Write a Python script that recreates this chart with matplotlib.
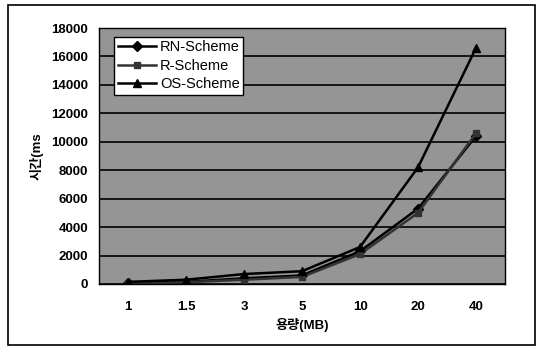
import matplotlib
matplotlib.use("Agg")
import matplotlib.pyplot as plt
from matplotlib.patches import Rectangle

plt.rcParams['font.family'] = ['Liberation Sans', 'Noto Sans CJK KR', 'DejaVu Sans']

categories = ['1', '1.5', '3', '5', '10', '20', '40']
rn_scheme = [100, 150, 400, 600, 2300, 5300, 10400]
r_scheme = [80, 120, 300, 500, 2100, 5000, 10600]
os_scheme = [150, 300, 700, 900, 2600, 8200, 16600]
y_ticks = [0, 2000, 4000, 6000, 8000, 10000, 12000, 14000, 16000, 18000]

fig = plt.figure(figsize=(5.4, 3.47), dpi=100)
fig.patch.set_facecolor('white')
fig.patches.append(Rectangle((8/540, 2/347), 527/540, 340/347, transform=fig.transFigure,
                             fill=False, edgecolor='black', linewidth=1.2))

ax = fig.add_axes([99/540, 63/347, 406/540, 256/347])
ax.set_facecolor('#959595')
x = list(range(len(categories)))
ax.plot(x, rn_scheme, color='black', lw=1.8, marker='D', ms=5, label='RN-Scheme')
ax.plot(x, r_scheme, color='#333333', lw=1.8, marker='s', ms=5, label='R-Scheme')
ax.plot(x, os_scheme, color='black', lw=1.8, marker='^', ms=6, label='OS-Scheme')

ax.set_xlim(-0.5, len(categories) - 0.5)
ax.set_ylim(0, 18000)
ax.set_xticks(x)
ax.set_xticklabels(categories)
ax.set_yticks(y_ticks)
ax.yaxis.grid(True, color='black', lw=1.2)
ax.set_axisbelow(True)
ax.tick_params(axis='x', length=0, labelsize=9.5, pad=12)
ax.tick_params(axis='y', length=0, labelsize=9.5, pad=8)
for lbl in ax.get_xticklabels() + ax.get_yticklabels():
    lbl.set_fontweight('bold')
for s in ax.spines.values():
    s.set_color('black')
    s.set_linewidth(1.0)

ax.set_xlabel('용량(MB)', fontsize=9.5, fontweight='bold', labelpad=4)
ax.set_ylabel('시간(ms', fontsize=9.5, fontweight='bold', labelpad=5)

leg = ax.legend(loc='upper left', bbox_to_anchor=(0.037, 0.966), frameon=True, fancybox=False,
                edgecolor='black', facecolor='white', framealpha=1, fontsize=10.5,
                handlelength=2.6, borderpad=0.25, labelspacing=0.3, handletextpad=0.3,
                borderaxespad=0)
leg.get_frame().set_linewidth(1.0)

fig.savefig('out.png', dpi=100)
